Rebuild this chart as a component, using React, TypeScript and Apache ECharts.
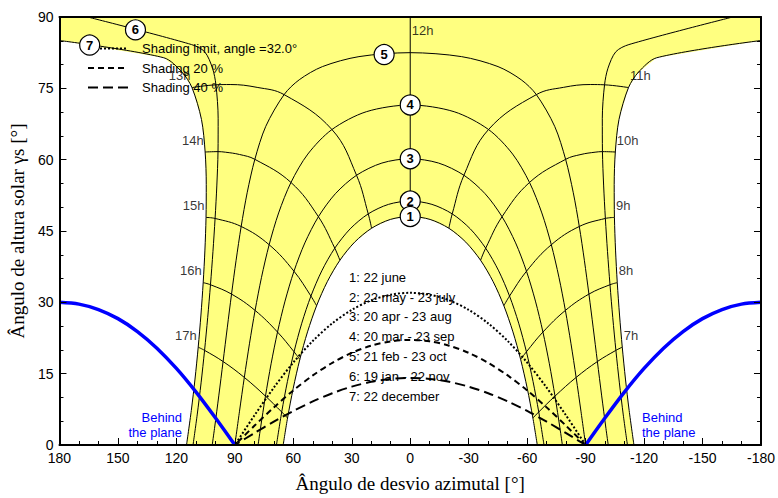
import React, { useEffect, useRef } from 'react';
import * as echarts from 'echarts';

type Pt = number[];

// Sun paths, afternoon half, from solar noon to sunset: [azimuth °, solar height °]
const pathJun22: Pt[] = [[0, 48.06], [10.2, 47.43], [19.83, 45.58], [28.52, 42.66], [36.09, 38.85], [42.56, 34.34], [48.05, 29.28], [52.7, 23.79], [56.66, 17.99], [60.04, 11.93], [62.95, 5.68], [65.2, 0]];
const pathMay22: Pt[] = [[0, 51.3], [11.13, 50.6], [21.55, 48.6], [30.8, 45.46], [38.72, 41.39], [45.39, 36.62], [50.96, 31.32], [55.66, 25.61], [59.63, 19.6], [63.02, 13.36], [65.95, 6.94], [68.65, 0]];
const pathApr20: Pt[] = [[0, 60.2], [14.52, 59.29], [27.56, 56.72], [38.41, 52.84], [47.12, 48.0], [54.07, 42.5], [59.66, 36.54], [64.25, 30.26], [68.1, 23.75], [71.4, 17.08], [74.29, 10.28], [76.89, 3.39], [78.07, 0]];
const pathMar20: Pt[] = [[0, 71.5], [22.54, 70.08], [40.18, 66.34], [52.54, 61.18], [61.21, 55.21], [67.53, 48.8], [72.4, 42.11], [76.32, 35.26], [79.62, 28.3], [82.51, 21.28], [85.14, 14.21], [87.61, 7.11], [90, 0]];
const pathFeb21: Pt[] = [[0, 82.5], [26.31, 81.67], [45.06, 79.57], [56.96, 76.8], [64.73, 73.68], [74.13, 67.01], [79.74, 60.07], [83.68, 53.04], [86.76, 45.95], [89.36, 38.84], [91.7, 31.73], [93.9, 24.63], [96.04, 17.55], [98.2, 10.49], [100.44, 3.47], [101.61, 0]];
const pathJan19: Pt[] = [[165.5, 90], [112.2, 84.2], [105.5, 82.69], [101.47, 79.23], [99.71, 75.74], [98.57, 68.71], [98.64, 61.69], [99.24, 54.66], [100.14, 47.64], [101.24, 40.66], [102.51, 33.7], [103.94, 26.77], [105.54, 19.9], [107.33, 13.07], [109.33, 6.32], [111.46, 0]];
const pathDec22: Pt[] = [[180, 85.06], [126.48, 81.43], [117.12, 78.4], [112.01, 75.16], [107.13, 68.45], [105.25, 61.61], [104.67, 54.74], [104.79, 47.85], [105.36, 40.99], [106.25, 34.14], [107.41, 27.33], [108.81, 20.57], [110.45, 13.87], [112.35, 7.25], [114.8, 0]];
const sunPaths: Pt[][] = [pathJun22, pathMay22, pathApr20, pathMar20, pathFeb21, pathJan19, pathDec22];

const dateLegend = ['1: 22 june', '2: 22 may - 23 july', '3: 20 apr - 23 aug', '4: 20 mar - 23 sep', '5: 21 feb - 23 oct', '6: 19 jan - 22 nov', '7: 22 december'];

// Hour lines, afternoon side, running from the June path to the December path
const hour13: Pt[] = [[19.83, 45.58], [21.55, 48.6], [27.56, 56.72], [40.18, 66.34], [64.73, 73.68], [78.56, 75.2], [92.4, 75.8], [99.71, 75.74], [112.01, 75.16]];
const hour14: Pt[] = [[36.09, 38.85], [38.72, 41.39], [47.12, 48.0], [61.21, 55.21], [79.74, 60.07], [87.63, 61.09], [94.86, 61.57], [98.64, 61.69], [105.25, 61.61]];
const hour15: Pt[] = [[48.05, 29.28], [50.96, 31.32], [59.66, 36.54], [72.4, 42.11], [86.76, 45.95], [100.14, 47.64], [104.79, 47.85]];
const hour16: Pt[] = [[56.66, 17.99], [59.63, 19.6], [68.1, 23.75], [79.62, 28.3], [91.7, 31.73], [102.51, 33.7], [106.25, 34.14]];
const hour17: Pt[] = [[62.95, 5.68], [65.95, 6.94], [74.29, 10.28], [85.14, 14.21], [96.04, 17.55], [105.54, 19.9], [108.81, 20.57]];
const hourLines: Pt[][] = [hour13, hour14, hour15, hour16, hour17];
const afternoonHours = ['13h', '14h', '15h', '16h', '17h'];
const morningHours = ['11h', '10h', '9h', '8h', '7h'];
const noonLine: Pt[] = [[0, 48.06], [0, 90]];

// Shading curves, azimuth 0 → 90
const shadingLimit: Pt[] = [[0, 32], [10, 31.61], [20, 30.42], [30, 28.42], [40, 25.58], [50, 21.88], [60, 17.35], [70, 12.06], [80, 6.19], [90, 0]];
const shading20: Pt[] = [[0, 22.1], [10, 21.8], [20, 20.88], [30, 19.38], [40, 17.28], [50, 14.63], [60, 11.48], [70, 7.91], [80, 4.03], [90, 0]];
const shading40: Pt[] = [[0, 14.1], [10, 13.9], [20, 13.28], [30, 12.27], [40, 10.89], [50, 9.17], [60, 7.16], [70, 4.91], [80, 2.5], [90, 0]];

// Sun behind the plane below this line, azimuth 90 → 180
const behindPlane: Pt[] = [[90, 0], [100, 5.72], [110, 11.17], [120, 16.1], [130, 20.36], [140, 23.86], [150, 26.57], [160, 28.48], [170, 29.62], [180, 30]];

// Circled path numbers
const pathTags: [number, number, string][] = [[164.5, 84.1, '7'], [141, 87.3, '6'], [13.4, 82.1, '5'], [0, 71.5, '4'], [0, 60.2, '3'], [0, 51.3, '2'], [0, 48.06, '1']];

const SANS = '"Liberation Sans", Arial, sans-serif';
const SERIF = '"Liberation Serif", "Times New Roman", serif';

const mirror = (pts: Pt[]): Pt[] => pts.map(([a, h]) => [-a, h]);
const wholeDay = (half: Pt[]): Pt[] => [...mirror(half).reverse(), ...half.slice(1)];

export default function App() {
  const ref = useRef<HTMLDivElement>(null);

  useEffect(() => {
    document.body.style.margin = '0';
    const chart = echarts.init(ref.current as HTMLDivElement, undefined, { renderer: 'svg' });

    const thin = (data: Pt[], smooth: number | boolean = 0.3) => ({
      type: 'line', data, symbol: 'none', smooth, silent: true, z: 3,
      lineStyle: { color: '#000', width: 1 },
    });

    // Sky area swept by the sun: between the December and June paths
    const inner = wholeDay(pathJun22);
    const decHalf = pathDec22;
    const sky: Pt[] = [
      ...decHalf.slice().reverse(),
      [180, 90], [-180, 90],
      ...mirror(decHalf),
      ...inner,
    ];

    const pathSeries: any[] = [];
    sunPaths.forEach((half) => {
      if (half[0][0] === 0) pathSeries.push(thin(wholeDay(half)));
      else {
        pathSeries.push(thin(half));
        pathSeries.push(thin(mirror(half)));
      }
    });
    const hourSeries: any[] = [];
    hourLines.forEach((line) => {
      hourSeries.push(thin(line, 0.4));
      hourSeries.push(thin(mirror(line), 0.4));
    });
    hourSeries.push(thin(noonLine, false));

    const dashed = (half: Pt[], dash: number[]) => ({
      type: 'line', data: wholeDay(half), symbol: 'none', smooth: 0.3, silent: true, z: 4,
      lineStyle: { color: '#000', width: 2, type: dash },
    });
    const blue = (data: Pt[]) => ({
      type: 'line', data, symbol: 'none', smooth: 0.3, silent: true, z: 5,
      lineStyle: { color: '#0000ff', width: 3.5 },
    });

    const hourTagData: any[] = [
      { value: [0, 90], name: '12h', label: { position: 'right', offset: [0, 13] } },
    ];
    hourLines.forEach((line, i) => {
      const end = line[line.length - 1];
      hourTagData.push({ value: end, name: afternoonHours[i], label: { position: 'left' } });
      hourTagData.push({ value: [-end[0], end[1]], name: morningHours[i], label: { position: 'right' } });
    });

    const tickStyle = { show: true, inside: true, length: 7, lineStyle: { color: '#000', width: 1 } };
    const minorStyle = { show: true, splitNumber: 3, length: 4, lineStyle: { color: '#000', width: 1 } };
    const frameLine = { show: true, onZero: false, lineStyle: { color: '#000', width: 2 } };

    const legendSample = (x1: number, x2: number, y: number, dash: number[]) => ({
      type: 'line', z: 100, shape: { x1, y1: y, x2, y2: y },
      style: { stroke: '#000', lineWidth: 2, lineDash: dash },
    });
    const label = (x: number, y: number, text: string, extra: any = {}) => ({
      type: 'text', z: 100, x, y,
      style: {
        text, fill: '#000', font: `13px ${SANS}`,
        verticalAlign: 'middle', textVerticalAlign: 'middle', ...extra,
      },
    });

    const option: any = {
      animation: false,
      backgroundColor: '#fff',
      grid: { left: 59, right: 12, top: 17, bottom: 48, containLabel: false },
      xAxis: [
        {
          type: 'value', min: -180, max: 180, interval: 30, inverse: true, z: 10,
          axisLine: frameLine, axisTick: tickStyle, minorTick: minorStyle,
          splitLine: { show: false },
          axisLabel: { color: '#000', fontSize: 14, fontFamily: SANS, margin: 6 },
          name: 'Ângulo de desvio azimutal [°]', nameLocation: 'middle', nameGap: 29,
          nameTextStyle: { fontFamily: SERIF, fontSize: 19, color: '#000' },
        },
        {
          type: 'value', position: 'top', min: -180, max: 180, inverse: true, z: 10,
          axisLine: frameLine, axisTick: { show: false }, axisLabel: { show: false },
          splitLine: { show: false },
        },
      ],
      yAxis: [
        {
          type: 'value', min: 0, max: 90, interval: 15, z: 10,
          axisLine: frameLine, axisTick: tickStyle, minorTick: minorStyle,
          splitLine: { show: false },
          axisLabel: { color: '#000', fontSize: 14, fontFamily: SANS, margin: 6 },
          name: 'Ângulo de altura solar γs [°]', nameLocation: 'middle', nameGap: 32, nameRotate: 90,
          nameTextStyle: { fontFamily: SERIF, fontSize: 19, color: '#000' },
        },
        {
          type: 'value', position: 'right', min: 0, max: 90, interval: 15, z: 10,
          axisLine: frameLine, axisTick: tickStyle, minorTick: minorStyle,
          axisLabel: { show: false }, splitLine: { show: false },
        },
      ],
      series: [
        {
          type: 'custom', data: [[0, 0]], silent: true, z: 1,
          renderItem: (_p: any, api: any) => ({
            type: 'polygon',
            shape: { points: sky.map((p) => api.coord(p)) },
            style: { fill: '#ffff80', stroke: 'none' },
          }),
        },
        ...pathSeries,
        ...hourSeries,
        dashed(shadingLimit, [2, 2]),
        dashed(shading20, [6, 4]),
        dashed(shading40, [10, 5]),
        blue(behindPlane),
        blue(mirror(behindPlane)),
        {
          type: 'scatter', silent: true, z: 6, symbolSize: 1,
          itemStyle: { color: 'rgba(0,0,0,0)' },
          data: hourTagData,
          label: {
            show: true, formatter: (p: any) => p.name, color: '#000',
            fontSize: 13, fontFamily: SANS, distance: 1, offset: [0, -12],
          },
        },
        {
          type: 'scatter', silent: true, z: 7, symbol: 'circle', symbolSize: 20,
          itemStyle: { color: '#fff', borderColor: '#000', borderWidth: 1.2, opacity: 1 },
          data: pathTags.map(([a, h, n]) => ({ value: [a, h], name: n })),
          label: {
            show: true, position: 'inside', formatter: (p: any) => p.name,
            color: '#000', fontSize: 13, fontWeight: 'bold', fontFamily: SANS,
          },
        },
      ],
      graphic: [
        legendSample(100, 128, 48.5, [2, 2]),
        legendSample(88, 126, 68, [6, 4]),
        legendSample(88, 128, 87.5, [10, 5]),
        label(142, 48, 'Shading limit, angle =32.0°'),
        label(142, 68, 'Shading 20 %'),
        label(142, 87, 'Shading 40 %'),
        ...dateLegend.map((t, i) => label(349, 277.3 + i * 19.8, t)),
        {
          type: 'text', z: 100, x: 182, y: 424.5,
          style: {
            text: 'Behind\nthe plane', fill: '#0000ff', font: `13px ${SANS}`, lineHeight: 15,
            align: 'right', textAlign: 'right', verticalAlign: 'middle', textVerticalAlign: 'middle',
          },
        },
        {
          type: 'text', z: 100, x: 642, y: 424.5,
          style: {
            text: 'Behind\nthe plane', fill: '#0000ff', font: `13px ${SANS}`, lineHeight: 15,
            align: 'left', textAlign: 'left', verticalAlign: 'middle', textVerticalAlign: 'middle',
          },
        },
      ],
    };

    chart.setOption(option);
    return () => chart.dispose();
  }, []);

  return <div ref={ref} style={{ width: 778, height: 498, position: 'absolute', left: 0, top: 0 }} />;
}
